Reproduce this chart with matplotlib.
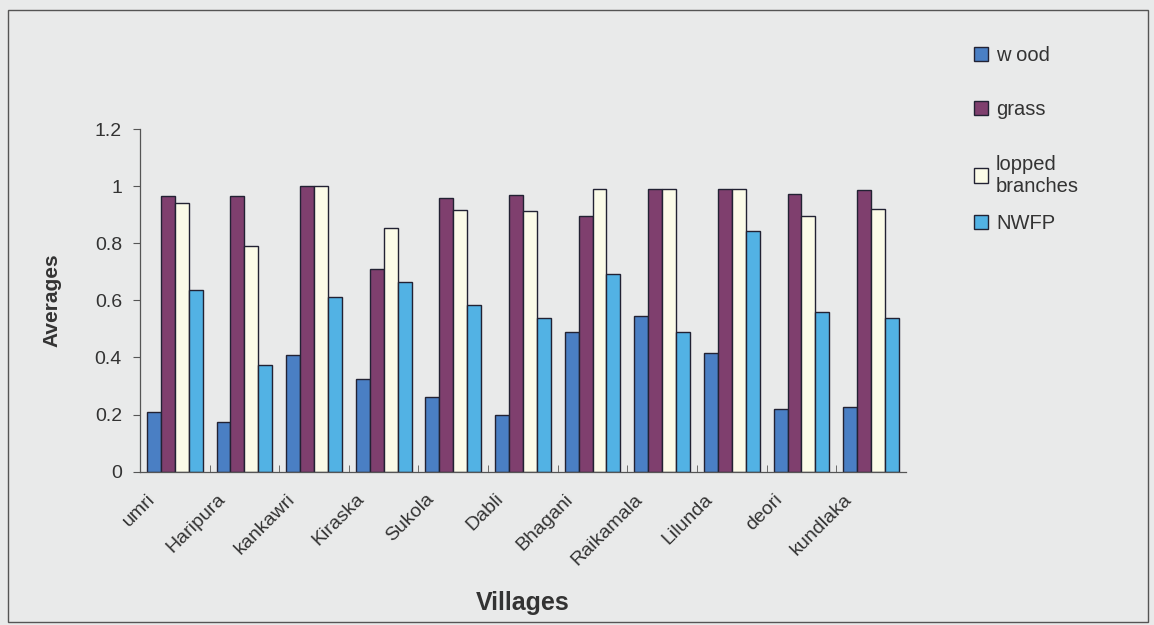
import numpy as np
import matplotlib.pyplot as plt
import matplotlib.transforms as mtransforms
from matplotlib.patches import Rectangle

villages = ["umri", "Haripura", "kankawri", "Kiraska", "Sukola", "Dabli",
            "Bhagani", "Raikamala", "Lilunda", "deori", "kundlaka"]
wood = [0.21, 0.175, 0.41, 0.325, 0.26, 0.20, 0.49, 0.545, 0.415, 0.22, 0.225]
grass = [0.965, 0.965, 1.0, 0.71, 0.96, 0.968, 0.895, 0.99, 0.99, 0.973, 0.987]
lopped = [0.94, 0.79, 1.0, 0.853, 0.917, 0.914, 0.99, 0.99, 0.99, 0.897, 0.921]
nwfp = [0.635, 0.372, 0.613, 0.665, 0.584, 0.537, 0.692, 0.489, 0.844, 0.558, 0.537]

series = [("w ood", wood, "#4a7fc4"),
          ("grass", grass, "#7f3f6e"),
          ("lopped\nbranches", lopped, "#fbfbe8"),
          ("NWFP", nwfp, "#52b2e4")]

plt.rcParams['font.family'] = ['Liberation Sans', 'DejaVu Sans']
bg = "#e9eaea"
fig = plt.figure(figsize=(11.54, 6.25), dpi=100, facecolor=bg)
ax = fig.add_axes([0.1213, 0.2453, 0.6637, 0.5483])
ax.set_facecolor(bg)

x = np.arange(len(villages))
w = 0.2
bars = []
for i, (name, vals, col) in enumerate(series):
    b = ax.bar(x + (i - 1.5) * w, vals, w, color=col, edgecolor="#222233",
               linewidth=1.0, label=name)
    bars.append(b)

ax.set_xlim(-0.5, len(villages) - 0.5)
ax.set_ylim(0, 1.2)
ax.set_yticks([0, 0.2, 0.4, 0.6, 0.8, 1.0, 1.2])
ax.set_yticklabels(["0", "0.2", "0.4", "0.6", "0.8", "1", "1.2"], fontsize=14, color="#333333")
ax.set_xticks(x)
ax.tick_params(axis="x", which="major", length=0, pad=10)
ax.set_xticks(x[:-1] + 0.5, minor=True)
ax.tick_params(axis="x", which="minor", direction="in", length=5, color="#555555")
ax.tick_params(axis="y", length=5, color="#555555", pad=8)
ax.set_xticklabels(villages, rotation=45, ha="right", rotation_mode="anchor",
                   fontsize=14, color="#333333")
# push the slanted names down-left like the original
shift = mtransforms.ScaledTranslation(-0.28, -0.05, fig.dpi_scale_trans)
for lab in ax.get_xticklabels():
    lab.set_transform(lab.get_transform() + shift)

for s in ["top", "right"]:
    ax.spines[s].set_visible(False)
for s in ["left", "bottom"]:
    ax.spines[s].set_color("#555555")
    ax.spines[s].set_linewidth(0.9)

ax.set_ylabel("Averages", fontsize=15, fontweight="bold", color="#333333", labelpad=24)
ax.set_xlabel("Villages", fontsize=18, fontweight="bold", color="#333333", labelpad=16)

leg_kw = dict(loc="upper left", frameon=False, fontsize=14.5, handlelength=0.7,
              handleheight=0.7, handletextpad=0.4, labelcolor="#333333")
leg1 = ax.legend(bars[:3], [s[0] for s in series[:3]], bbox_to_anchor=(1.065, 1.295),
                 labelspacing=1.75, **leg_kw)
ax.add_artist(leg1)
ax.legend(bars[3:], [series[3][0]], bbox_to_anchor=(1.065, 0.805), **leg_kw)

fig.patches.append(Rectangle((8 / 1154, 3 / 625), 1140 / 1154, 612 / 625,
                             transform=fig.transFigure, fill=False,
                             edgecolor="#555555", linewidth=1.0))

fig.savefig("out.png", dpi=100, facecolor=bg)
